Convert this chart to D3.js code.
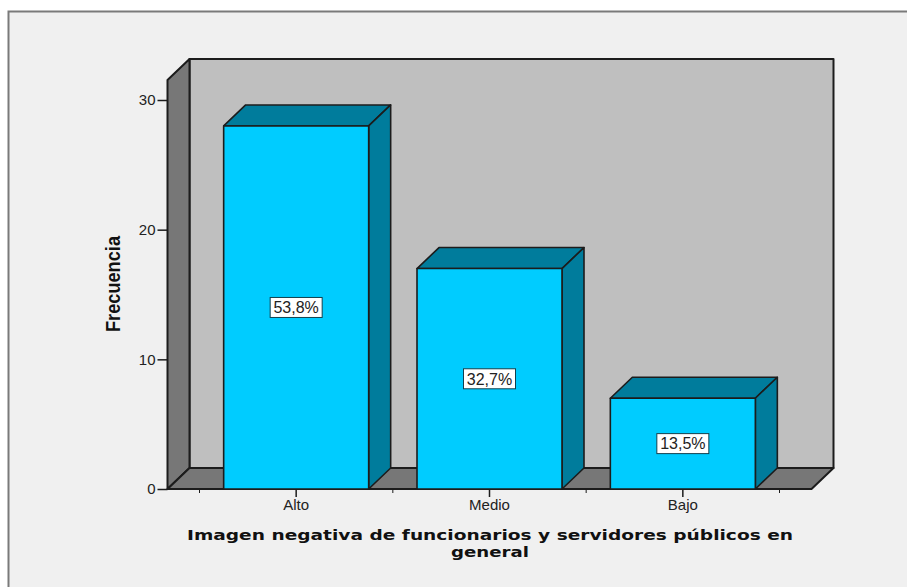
<!DOCTYPE html>
<html>
<head>
<meta charset="utf-8">
<script src="https://cdn.jsdelivr.net/npm/d3@7"></script>
<style>
  html, body { margin: 0; padding: 0; background: #fff; }
  svg { display: block; }
  text { font-family: "Liberation Sans", sans-serif; fill: #222; }
</style>
</head>
<body>
<svg></svg>
<script>
const width = 907,
  height = 587;

const categories = ["Alto", "Medio", "Bajo"];
const frequencies = [28, 17, 7];
const percentLabels = ["53,8%", "32,7%", "13,5%"];
const yTicks = [0, 10, 20, 30];
const xTitleLines = ["Imagen negativa de funcionarios y servidores públicos en", "general"];
const xTitleWidths = [606, 78];
const yTitle = "Frecuencia";

// 3D offset of the box
const depthX = 22,
  depthY = 21;

const ink = "#1c1c1c",
  barFront = "#00ccff",
  barDark = "#007c9c",
  wallBack = "#bfbfbf",
  wallDark = "#777777";

const svg = d3.select("svg")
  .attr("width", width)
  .attr("height", height);

// Outer panel
svg.append("rect")
  .attr("x", 8).attr("y", 11)
  .attr("width", width - 8).attr("height", height - 11)
  .attr("fill", "#f0f0f0");
svg.append("path")
  .attr("d", `M8.5,${height}V11.5H${width}`)
  .attr("fill", "none")
  .attr("stroke", "#7a7a7a")
  .attr("stroke-width", 2);

const x = d3.scaleBand()
  .domain(categories)
  .range([199.5, 779.5])
  .paddingInner(0.25)
  .paddingOuter(0.125);

const y = d3.scaleLinear()
  .domain([0, 30])
  .range([489, 100]);

const x0 = 167.5,
  x1 = 811.5,
  yBase = y(0),
  yTop = 80;

function poly(points, fill, strokeWidth = 1.6) {
  return svg.append("path")
    .attr("d", d3.line()(points) + "Z")
    .attr("fill", fill)
    .attr("stroke", ink)
    .attr("stroke-width", strokeWidth)
    .attr("stroke-linejoin", "round");
}

// Back wall, side wall, floor
poly([[x0 + depthX, yTop - depthY], [x1 + depthX, yTop - depthY], [x1 + depthX, yBase - depthY], [x0 + depthX, yBase - depthY]], wallBack, 2);
poly([[x0, yTop], [x0 + depthX, yTop - depthY], [x0 + depthX, yBase - depthY], [x0, yBase]], wallDark, 2);
poly([[x0, yBase], [x0 + depthX, yBase - depthY], [x1 + depthX, yBase - depthY], [x1, yBase]], wallDark, 2);

// Y axis
const yAxis = svg.append("g")
  .attr("transform", `translate(${x0},0)`)
  .call(d3.axisLeft(y).tickValues(yTicks).tickSize(10).tickPadding(2).tickFormat(d3.format("d")));
yAxis.select(".domain").remove();
yAxis.selectAll("line").attr("stroke", ink).attr("stroke-width", 1.5);
yAxis.selectAll("text").style("font-size", "15px").attr("fill", "#222");

// X axis: major ticks on categories, minor ticks between them
const step = x.step();
const minorTicks = [0, 1, 2, 3].map(i => x.range()[0] + i * step);
svg.selectAll("line.minor")
  .data(minorTicks)
  .enter()
  .append("line")
  .attr("class", "minor")
  .attr("x1", d => d).attr("x2", d => d)
  .attr("y1", yBase).attr("y2", yBase + 4)
  .attr("stroke", ink).attr("stroke-width", 1);

const xAxis = svg.append("g")
  .attr("transform", `translate(0,${yBase})`)
  .call(d3.axisBottom(x).tickSize(8).tickPadding(2));
xAxis.select(".domain").remove();
xAxis.selectAll("line").attr("stroke", ink).attr("stroke-width", 1.5);
xAxis.selectAll("text").style("font-size", "15px").attr("fill", "#222");

// Bars
categories.forEach((c, i) => {
  const left = x(c),
    right = left + x.bandwidth(),
    top = y(frequencies[i]);
  poly([[left, top], [left + depthX, top - depthY], [right + depthX, top - depthY], [right, top]], barDark);
  poly([[right, top], [right + depthX, top - depthY], [right + depthX, yBase - depthY], [right, yBase]], barDark);
  poly([[left, top], [right, top], [right, yBase], [left, yBase]], barFront);

  const midY = (top + yBase) / 2;
  const cx = left + x.bandwidth() / 2;
  svg.append("rect")
    .attr("x", cx - 26).attr("y", midY - 10)
    .attr("width", 52).attr("height", 20)
    .attr("fill", "#fff")
    .attr("stroke", "#12404e")
    .attr("stroke-width", 1);
  svg.append("text")
    .attr("x", cx).attr("y", midY)
    .attr("dy", "0.36em")
    .attr("text-anchor", "middle")
    .style("font-size", "16px")
    .text(percentLabels[i]);
});

// Axis titles
svg.append("text")
  .attr("transform", "translate(120,284) rotate(-90)")
  .attr("text-anchor", "middle")
  .attr("textLength", 96)
  .attr("lengthAdjust", "spacingAndGlyphs")
  .style("font-size", "20px")
  .style("font-weight", "bold")
  .style("fill", "#111")
  .text(yTitle);

svg.selectAll("text.xtitle")
  .data(xTitleLines)
  .enter()
  .append("text")
  .attr("class", "xtitle")
  .attr("x", 490)
  .attr("y", (d, i) => 539.5 + i * 17)
  .attr("text-anchor", "middle")
  .attr("textLength", (d, i) => xTitleWidths[i])
  .attr("lengthAdjust", "spacingAndGlyphs")
  .style("font-family", "'DejaVu Sans', sans-serif")
  .style("font-size", "14.5px")
  .style("font-weight", "bold")
  .style("fill", "#111")
  .text(d => d);
</script>
</body>
</html>
